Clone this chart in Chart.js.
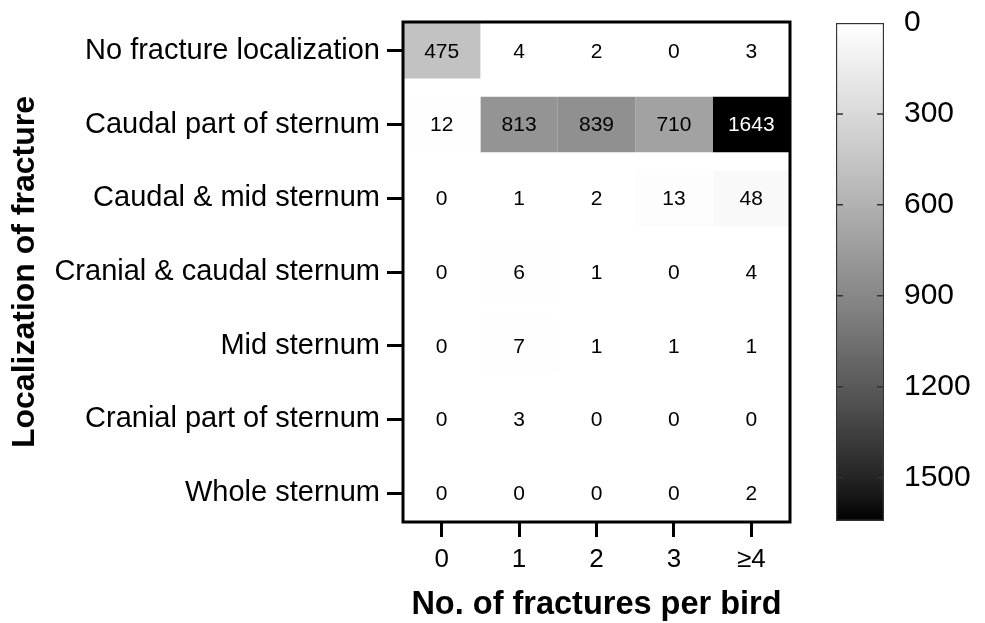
<!DOCTYPE html>
<html>
<head>
<meta charset="utf-8">
<script src="https://cdn.jsdelivr.net/npm/chart.js@4"></script>
<style>
  html, body { margin: 0; padding: 0; background: #fff; }
  #wrap { position: relative; width: 985px; height: 623px; }
  .box { position: absolute; top: 0; height: 623px; }
</style>
</head>
<body>
<div id="wrap">
  <div class="box" style="left:0;width:800px"><canvas id="heatChart"></canvas></div>
  <div class="box" style="left:780px;width:205px"><canvas id="scaleChart"></canvas></div>
</div>
<script>
// rows (top to bottom) and columns (left to right)
const rowLabels = [
    'No fracture localization',
    'Caudal part of sternum',
    'Caudal & mid sternum',
    'Cranial & caudal sternum',
    'Mid sternum',
    'Cranial part of sternum',
    'Whole sternum'
];
const colLabels = ['0', '1', '2', '3', '\u22654'];

// counts per column, one value per row
const zeroFx = [475, 12, 0, 0, 0, 0, 0];
const oneFx = [4, 813, 1, 6, 7, 3, 0];
const twoFx = [2, 839, 2, 1, 1, 0, 0];
const threeFx = [0, 710, 13, 0, 1, 0, 0];
const fourPlusFx = [3, 1643, 48, 4, 1, 0, 2];

// colour scale
const colorTicks = [0, 300, 600, 900, 1200, 1500];
const colorMax = 1643;

const family = "'Liberation Sans', Arial, Helvetica, sans-serif";

function grayFor(v) {
    const t = Math.min(Math.max(v / colorMax, 0), 1);
    const g = Math.round(255 * Math.pow(1 - t, 0.8));
    return 'rgb(' + g + ',' + g + ',' + g + ')';
}

// keep axis label overhang from pushing the plot area around
function noPad(axis) {
    axis.paddingTop = 0;
    axis.paddingBottom = 0;
    axis.paddingLeft = 0;
    axis.paddingRight = 0;
}

const columns = [zeroFx, oneFx, twoFx, threeFx, fourPlusFx];

// numbers inside the cells
const cellText = {
    id: 'cellText',
    afterDatasetsDraw(chart) {
        const ctx = chart.ctx;
        ctx.save();
        ctx.font = '21px ' + family;
        ctx.textAlign = 'center';
        ctx.textBaseline = 'middle';
        chart.data.datasets.forEach((ds, c) => {
            chart.getDatasetMeta(c).data.forEach((bar, r) => {
                const v = columns[c][r];
                const p = bar.getCenterPoint();
                ctx.fillStyle = v > colorMax * 0.6 ? '#fff' : '#000';
                ctx.fillText(String(v), p.x, p.y + 1);
            });
        });
        ctx.restore();
    }
};

// black frame round the plot
const frame = {
    id: 'frame',
    afterDraw(chart) {
        const a = chart.chartArea;
        const ctx = chart.ctx;
        ctx.save();
        ctx.strokeStyle = '#000';
        ctx.lineWidth = 3;
        ctx.strokeRect(a.left, a.top, a.right - a.left, a.bottom - a.top);
        ctx.restore();
    }
};

const heatCtx = document.getElementById('heatChart');
new Chart(heatCtx, {
    type: 'bar',
    data: {
        datasets: columns.map((col, c) => ({
            label: colLabels[c],
            data: col.map((v, r) => ({ y: r, x: [c - 0.5, c + 0.5] })),
            backgroundColor: col.map(grayFor),
            borderWidth: 0,
            grouped: false,
            barPercentage: 0.75,
            categoryPercentage: 1
        }))
    },
    options: {
        indexAxis: 'y',
        responsive: true,
        maintainAspectRatio: false,
        animation: false,
        layout: { padding: { left: 0, right: 10, top: 22, bottom: 0 } },
        plugins: {
            legend: { display: false },
            tooltip: { enabled: false }
        },
        scales: {
            x: {
                type: 'linear',
                position: 'bottom',
                min: -0.5,
                max: 4.5,
                offset: false,
                afterBuildTicks: axis => { axis.ticks = colLabels.map((_, i) => ({ value: i })); },
                afterFit: axis => { axis.height = 101; noPad(axis); },
                grid: { offset: false, drawOnChartArea: false, drawTicks: true, tickLength: 15, tickWidth: 3, tickColor: '#000' },
                border: { display: false },
                ticks: {
                    callback: value => colLabels[value],
                    autoSkip: false,
                    maxRotation: 0,
                    padding: 7,
                    color: '#000',
                    font: { size: 26, family: family }
                },
                title: {
                    display: true,
                    text: 'No. of fractures per bird',
                    color: '#000',
                    font: { size: 32.5, weight: 'bold', family: family, lineHeight: 1.1 },
                    padding: { top: 0, bottom: 0 }
                }
            },
            y: {
                type: 'linear',
                min: -0.39,
                max: 6.39,
                reverse: true,
                offset: false,
                afterBuildTicks: axis => { axis.ticks = rowLabels.map((_, i) => ({ value: i })); },
                afterFit: axis => { axis.width = 403; noPad(axis); },
                grid: { offset: false, drawOnChartArea: false, drawTicks: true, tickLength: 16, tickWidth: 3, tickColor: '#000' },
                border: { display: false },
                ticks: {
                    callback: value => rowLabels[value],
                    autoSkip: false,
                    padding: 7,
                    color: '#000',
                    font: { size: 29, family: family }
                },
                title: {
                    display: true,
                    text: 'Localization of fracture',
                    color: '#000',
                    font: { size: 32, weight: 'bold', family: family, lineHeight: 1.2 },
                    padding: { top: 6, bottom: 0 }
                }
            }
        }
    },
    plugins: [cellText, frame]
});

// small inner tick marks on the colour bar
const barTicks = {
    id: 'barTicks',
    afterDatasetsDraw(chart) {
        const a = chart.chartArea;
        const scale = chart.scales.y;
        const ctx = chart.ctx;
        ctx.save();
        ctx.strokeStyle = '#333';
        ctx.lineWidth = 1.5;
        colorTicks.forEach(t => {
            if (t === 0) return;
            const y = scale.getPixelForValue(t);
            ctx.beginPath();
            ctx.moveTo(a.left, y);
            ctx.lineTo(a.left + 7, y);
            ctx.moveTo(a.right - 7, y);
            ctx.lineTo(a.right, y);
            ctx.stroke();
        });
        ctx.restore();
    }
};

const scaleCtx = document.getElementById('scaleChart');
new Chart(scaleCtx, {
    type: 'bar',
    data: {
        labels: [''],
        datasets: [{
            data: [[0, colorMax]],
            backgroundColor: function(context) {
                const area = context.chart.chartArea;
                if (!area) return '#888';
                const g = context.chart.ctx.createLinearGradient(0, area.top, 0, area.bottom);
                for (let i = 0; i <= 20; i++) {
                    g.addColorStop(i / 20, grayFor(colorMax * i / 20));
                }
                return g;
            },
            borderColor: '#333',
            borderWidth: 1.5,
            borderSkipped: false,
            barPercentage: 1,
            categoryPercentage: 1
        }]
    },
    options: {
        responsive: true,
        maintainAspectRatio: false,
        animation: false,
        layout: { padding: { left: 56, right: 0, top: 23, bottom: 102 } },
        plugins: {
            legend: { display: false },
            tooltip: { enabled: false }
        },
        scales: {
            x: { display: false },
            y: {
                position: 'right',
                min: 0,
                max: colorMax,
                reverse: true,
                afterBuildTicks: axis => { axis.ticks = colorTicks.map(v => ({ value: v })); },
                afterFit: axis => { axis.width = 101; noPad(axis); },
                grid: { display: false },
                border: { display: false },
                ticks: {
                    callback: value => String(value),
                    padding: 12,
                    color: '#000',
                    font: { size: 30, family: family }
                }
            }
        }
    },
    plugins: [barTicks]
});
</script>
</body>
</html>
